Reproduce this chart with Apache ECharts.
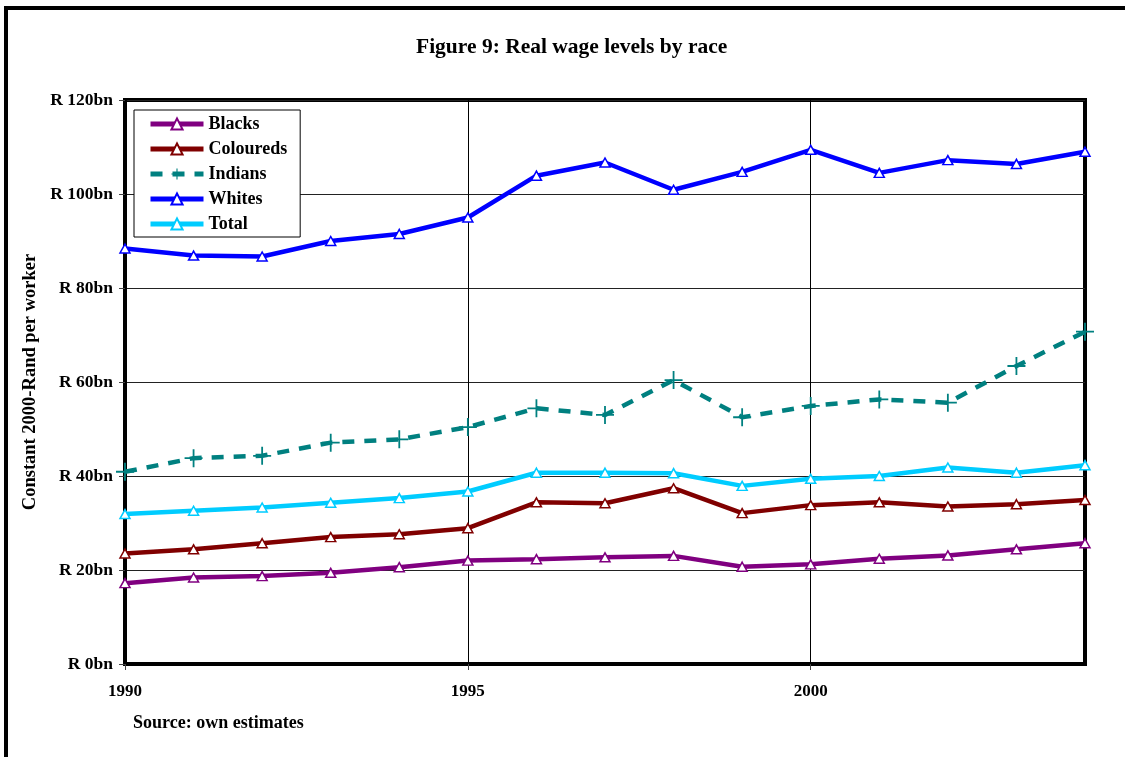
<!DOCTYPE html>
<html>
<head>
<meta charset="utf-8">
<script src="https://cdn.jsdelivr.net/npm/echarts@6/dist/echarts.min.js"></script>
<style>
html,body{margin:0;padding:0;background:#fff;}
#chart{width:1125px;height:757px;}
</style>
</head>
<body>
<div id="chart"></div>
<script>
const years = ['1990','1991','1992','1993','1994','1995','1996','1997','1998','1999','2000','2001','2002','2003','2004'];
const blacks    = [17.2, 18.4, 18.7, 19.4, 20.6, 22.0, 22.3, 22.7, 23.0, 20.7, 21.2, 22.4, 23.1, 24.4, 25.7];
const coloureds = [23.5, 24.4, 25.7, 27.0, 27.6, 28.9, 34.4, 34.2, 37.4, 32.1, 33.8, 34.4, 33.5, 34.0, 34.9];
const indians   = [40.9, 43.8, 44.3, 47.1, 47.8, 50.4, 54.4, 53.0, 60.4, 52.5, 54.9, 56.3, 55.6, 63.4, 70.7];
const whites    = [88.4, 86.9, 86.7, 90.0, 91.5, 95.0, 103.9, 106.7, 100.9, 104.7, 109.4, 104.5, 107.2, 106.4, 109.0];
const total     = [31.9, 32.6, 33.3, 34.3, 35.3, 36.7, 40.7, 40.7, 40.6, 37.9, 39.4, 40.0, 41.8, 40.7, 42.3];
const seriesNames = ['Blacks','Coloureds','Indians','Whites','Total'];

const FONT = '"Liberation Serif", "Times New Roman", serif';
const plus = 'path://M9,0h2v9h9v2h-9v9h-2v-9h-9v-2h9z';

function triSeries(name, data, color) {
  return {
    name: name, type: 'line', data: data,
    symbol: 'triangle', symbolSize: [10, 9],
    itemStyle: { color: '#fff', borderColor: color, borderWidth: 1.5 },
    lineStyle: { color: color, width: 4.5 },
    emphasis: { disabled: true },
    z: 3
  };
}

const chart = echarts.init(document.getElementById('chart'), null, { renderer: 'canvas' });
chart.setOption({
  animation: false,
  backgroundColor: '#fff',
  title: {
    text: 'Figure 9: Real wage levels by race',
    left: 411, top: 31,
    textStyle: { fontFamily: FONT, fontWeight: 'bold', fontSize: 21.5, color: '#000' }
  },
  graphic: [
    { type: 'rect', shape: { x: 6, y: 8, width: 1300, height: 900 },
      style: { fill: 'none', stroke: '#000', lineWidth: 4 }, silent: true, z: 100 },
    { type: 'text', left: 133, top: 714,
      style: { text: 'Source: own estimates', font: 'bold 18px ' + FONT, fill: '#000' } }
  ],
  legend: {
    orient: 'vertical',
    left: 134, top: 110,
    padding: [5, 13, 4, 14],
    itemGap: 7,
    itemWidth: 53, itemHeight: 14,
    backgroundColor: '#fff',
    borderColor: '#000', borderWidth: 1,
    lineStyle: { width: 5 },
    data: seriesNames,
    textStyle: { fontFamily: FONT, fontWeight: 'bold', fontSize: 18, color: '#000' }
  },
  grid: {
    left: 125, right: 40, top: 100, bottom: 93,
    show: true, borderColor: '#000', borderWidth: 4, backgroundColor: 'transparent'
  },
  xAxis: {
    type: 'category', data: years, boundaryGap: false,
    axisLine: { lineStyle: { color: '#000', width: 4 } },
    axisTick: { interval: 4, length: 6, lineStyle: { color: '#444', width: 1 } },
    axisLabel: { interval: 4, margin: 19, fontFamily: FONT, fontWeight: 'bold', fontSize: 17, color: '#000' },
    splitLine: { show: true, interval: 4, lineStyle: { color: '#000', width: 1 } }
  },
  yAxis: {
    type: 'value', min: 0, max: 120, interval: 20,
    name: 'Constant 2000-Rand per worker',
    nameLocation: 'middle', nameGap: 77, nameRotate: 90,
    nameTextStyle: { fontFamily: FONT, fontWeight: 'bold', fontSize: 18.5, color: '#000' },
    axisLine: { show: true, lineStyle: { color: '#000', width: 4 } },
    axisTick: { show: true, length: 6, lineStyle: { color: '#444', width: 1 } },
    axisLabel: { margin: 12, formatter: 'R {value}bn', fontFamily: FONT, fontWeight: 'bold', fontSize: 17.5, color: '#000' },
    splitLine: { show: true, lineStyle: { color: '#222', width: 1 } }
  },
  series: [
    triSeries('Blacks', blacks, '#800080'),
    triSeries('Coloureds', coloureds, '#800000'),
    {
      name: 'Indians', type: 'line', data: indians,
      symbol: plus, symbolSize: 18,
      itemStyle: { color: '#008080' },
      lineStyle: { color: '#008080', width: 4.5, type: [12, 10] },
      emphasis: { disabled: true }, z: 3
    },
    triSeries('Whites', whites, '#0000FF'),
    triSeries('Total', total, '#00CCFF')
  ]
});
</script>
</body>
</html>
